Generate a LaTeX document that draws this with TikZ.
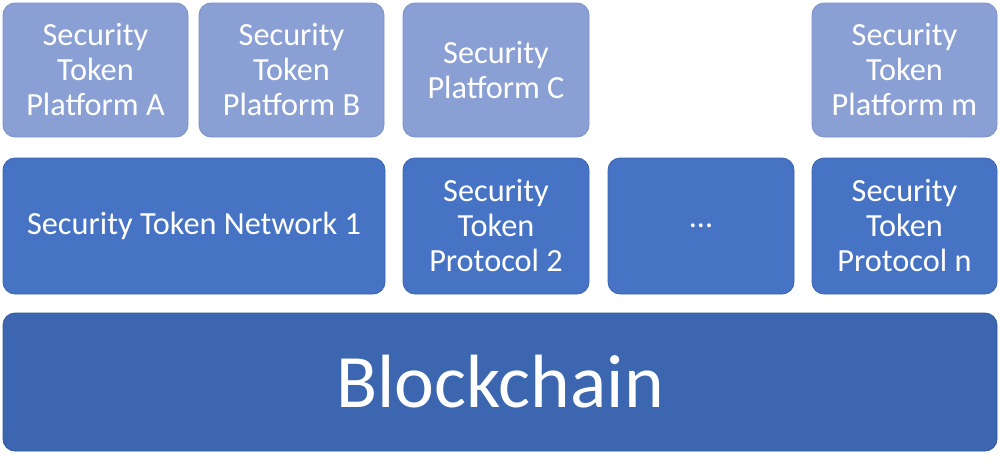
\documentclass[tikz,border=0pt]{standalone}
\usepackage{fontspec}
\setmainfont{Carlito}
\definecolor{topfill}{HTML}{8A9FD3}
\definecolor{topline}{HTML}{7A91CC}
\definecolor{midfill}{HTML}{4673C4}
\definecolor{midline}{HTML}{3A64B0}
\definecolor{botfill}{HTML}{3C66AF}
\definecolor{botline}{HTML}{2F57A0}
\begin{document}
\begin{tikzpicture}[x=1pt,y=-1pt,
  base/.style={rounded corners=12pt, line width=0.8pt, text=white, align=center, inner sep=0pt,
    font=\fontsize{32.3}{35}\selectfont},
  topbox/.style={base, fill=topfill, draw=topline, minimum height=134pt},
  midbox/.style={base, fill=midfill, draw=midline, minimum height=136pt},
  botbox/.style={base, fill=botfill, draw=botline, minimum height=138pt, font=\fontsize{75.5}{80}\selectfont}]
\useasboundingbox (0,0) rectangle (1000,471);
\node[topbox, minimum width=185pt] (A) at (95.5,70) {Security\\Token\\Platform A};
\node[topbox, minimum width=185pt] (B) at (291.5,70) {Security\\Token\\Platform B};
\node[topbox, minimum width=186pt] (C) at (496,70) {Security\\Platform C};
\node[topbox, minimum width=185pt] (M) at (904.5,70) {Security\\Token\\Platform m};
\node[midbox, minimum width=382pt] (N1) at (194,226) {Security Token Network 1};
\node[midbox, minimum width=186pt] (P2) at (496,226) {Security\\Token\\Protocol 2};
\node[midbox, minimum width=186pt] (D) at (701,226) {\dots};
\node[midbox, minimum width=185pt] (PN) at (904.5,226) {Security\\Token\\Protocol n};
\node[botbox, minimum width=994pt] (BC) at (500,382) {Blockchain};
\end{tikzpicture}
\end{document}
